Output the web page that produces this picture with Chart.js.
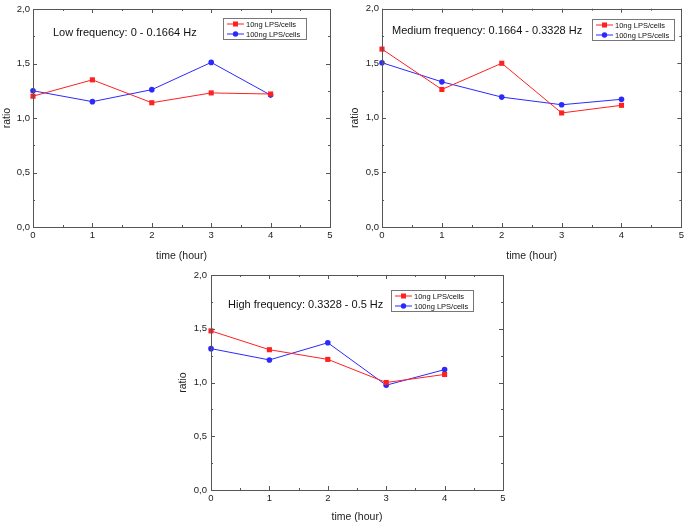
<!DOCTYPE html>
<html>
<head>
<meta charset="utf-8">
<script src="https://cdn.jsdelivr.net/npm/chart.js@4.4.1/dist/chart.umd.min.js"></script>
<style>
  html, body { margin: 0; padding: 0; background: #fff; overflow: hidden; }
  body { width: 685px; height: 523px; position: relative; }
  canvas { position: absolute; }
</style>
</head>
<body>
<canvas id="lowChart" width="342" height="262" style="left:0;top:0"></canvas>
<canvas id="medChart" width="342" height="262" style="left:345px;top:0"></canvas>
<canvas id="highChart" width="350" height="261" style="left:170px;top:262px"></canvas>
<script>
// Data
const hours = [0, 1, 2, 3, 4];
const seriesNames = ["10ng LPS/cells", "100ng LPS/cells"];

const lowTitle = "Low frequency: 0 - 0.1664 Hz";
const low10 = [1.20, 1.35, 1.14, 1.23, 1.22];
const low100 = [1.25, 1.15, 1.26, 1.51, 1.21];

const medTitle = "Medium frequency: 0.1664 - 0.3328 Hz";
const med10 = [1.63, 1.26, 1.50, 1.045, 1.115];
const med100 = [1.505, 1.33, 1.19, 1.12, 1.17];

const highTitle = "High frequency: 0.3328 - 0.5 Hz";
const high10 = [1.48, 1.305, 1.215, 1.0, 1.075];
const high100 = [1.315, 1.21, 1.37, 0.975, 1.12];

const xTicks = { min: 0, max: 5, step: 1, minor: 0.5 };
const yTicks = { min: 0, max: 2, step: 0.5, minor: 0.25 };

const FONT = "'Liberation Sans', Arial, sans-serif";
const RED = "#ff2020";
const BLUE = "#2a2aff";

// Origin-style frame, inward ticks, note text and boxed legend
const originFrame = {
  id: "originFrame",
  afterDatasetsDraw(chart, args, opts) {
    const ctx = chart.ctx;
    const { left, right, top, bottom } = chart.chartArea;
    const xs = chart.scales.x, ys = chart.scales.y;
    ctx.save();
    ctx.strokeStyle = "#555";
    ctx.lineWidth = 1;
    ctx.strokeRect(Math.round(left) + 0.5, Math.round(top) + 0.5,
      Math.round(right - left), Math.round(bottom - top));

    ctx.beginPath();
    for (let v = xTicks.min; v <= xTicks.max + 1e-9; v += xTicks.minor) {
      const len = Math.abs(v % xTicks.step) < 1e-9 ? 4 : 2;
      const px = Math.round(xs.getPixelForValue(v)) + 0.5;
      ctx.moveTo(px, bottom); ctx.lineTo(px, bottom - len);
      ctx.moveTo(px, top); ctx.lineTo(px, top + len);
    }
    for (let v = yTicks.min; v <= yTicks.max + 1e-9; v += yTicks.minor) {
      const len = Math.abs(v % yTicks.step) < 1e-9 ? 4 : 2;
      const py = Math.round(ys.getPixelForValue(v)) + 0.5;
      ctx.moveTo(left, py); ctx.lineTo(left + len, py);
      ctx.moveTo(right, py); ctx.lineTo(right - len, py);
    }
    ctx.stroke();

    // note
    ctx.fillStyle = "#111";
    ctx.font = "11px " + FONT;
    ctx.textBaseline = "middle";
    ctx.textAlign = "left";
    ctx.fillText(opts.note, opts.noteX, opts.noteY);

    // legend box
    const bx = opts.legX, by = opts.legY, bw = opts.legW, bh = 21;
    ctx.strokeStyle = "#777";
    ctx.strokeRect(bx + 0.5, by + 0.5, bw, bh);
    ctx.font = "7.5px " + FONT;
    chart.data.datasets.forEach((ds, i) => {
      const y = by + 6 + i * 10;
      ctx.strokeStyle = ds.borderColor;
      ctx.beginPath();
      ctx.moveTo(bx + 4, y); ctx.lineTo(bx + 21, y);
      ctx.stroke();
      ctx.fillStyle = ds.borderColor;
      if (ds.pointStyle === "rect") {
        ctx.fillRect(bx + 10, y - 2.5, 5, 5);
      } else {
        ctx.beginPath();
        ctx.arc(bx + 12.5, y, 2.7, 0, Math.PI * 2);
        ctx.fill();
      }
      ctx.fillStyle = "#111";
      ctx.fillText(ds.label, bx + 23, y + 0.5);
    });
    ctx.restore();
  }
};

function toPoints(values) {
  return hours.map((h, i) => ({ x: h, y: values[i] }));
}

function makeChart(id, a, b, g) {
  new Chart(document.getElementById(id), {
    type: "line",
    data: {
      datasets: [
        { label: seriesNames[0], data: toPoints(a), borderColor: RED, backgroundColor: RED,
          borderWidth: 1, pointStyle: "rect", pointRadius: 3.6, pointBorderWidth: 0, clip: false },
        { label: seriesNames[1], data: toPoints(b), borderColor: BLUE, backgroundColor: BLUE,
          borderWidth: 1, pointStyle: "circle", pointRadius: 2.8, pointBorderWidth: 0, clip: false }
      ]
    },
    options: {
      responsive: false,
      animation: false,
      layout: { padding: { top: g.top, right: g.right, left: 0, bottom: 0 } },
      plugins: {
        legend: { display: false },
        tooltip: { enabled: false },
        originFrame: g.frame
      },
      scales: {
        x: {
          type: "linear", min: xTicks.min, max: xTicks.max,
          ticks: { stepSize: xTicks.step, padding: 3, color: "#222", font: { family: FONT, size: 9.5 } },
          grid: { display: false, drawTicks: false },
          border: { display: false },
          title: { display: true, text: "time (hour)", color: "#222",
            font: { family: FONT, size: 10.5 }, padding: { top: g.xTitlePad, bottom: 0 } },
          afterFit: s => { s.height = g.xh; }
        },
        y: {
          min: yTicks.min, max: yTicks.max,
          ticks: { stepSize: yTicks.step, padding: g.yTickPad, color: "#222", font: { family: FONT, size: 9.5 },
            callback: v => v.toFixed(1).replace(".", ",") },
          grid: { display: false, drawTicks: false },
          border: { display: false },
          title: { display: true, text: "ratio", color: "#222",
            font: { family: FONT, size: 10.5 }, padding: { top: g.yTitlePad, bottom: 0 } },
          afterFit: s => { s.width = g.yw; }
        }
      }
    },
    plugins: [originFrame]
  });
}

makeChart("lowChart", low10, low100, {
  top: 9, right: 12, yw: 33, xh: 35, xTitlePad: 3.7, yTitlePad: 0.7, yTickPad: 3,
  frame: { note: lowTitle, noteX: 53, noteY: 33, legX: 223, legY: 18, legW: 83 }
});
makeChart("medChart", med10, med100, {
  top: 7, right: 4, yw: 37, xh: 35, xTitlePad: 3.7, yTitlePad: 3.7, yTickPad: 3,
  frame: { note: medTitle, noteX: 47, noteY: 31, legX: 247, legY: 19, legW: 82 }
});
makeChart("highChart", high10, high100, {
  top: 13, right: 17, yw: 41, xh: 33, xTitlePad: 0.7, yTitlePad: 7, yTickPad: 4,
  frame: { note: highTitle, noteX: 58, noteY: 43, legX: 221, legY: 28, legW: 82 }
});
</script>
</body>
</html>
